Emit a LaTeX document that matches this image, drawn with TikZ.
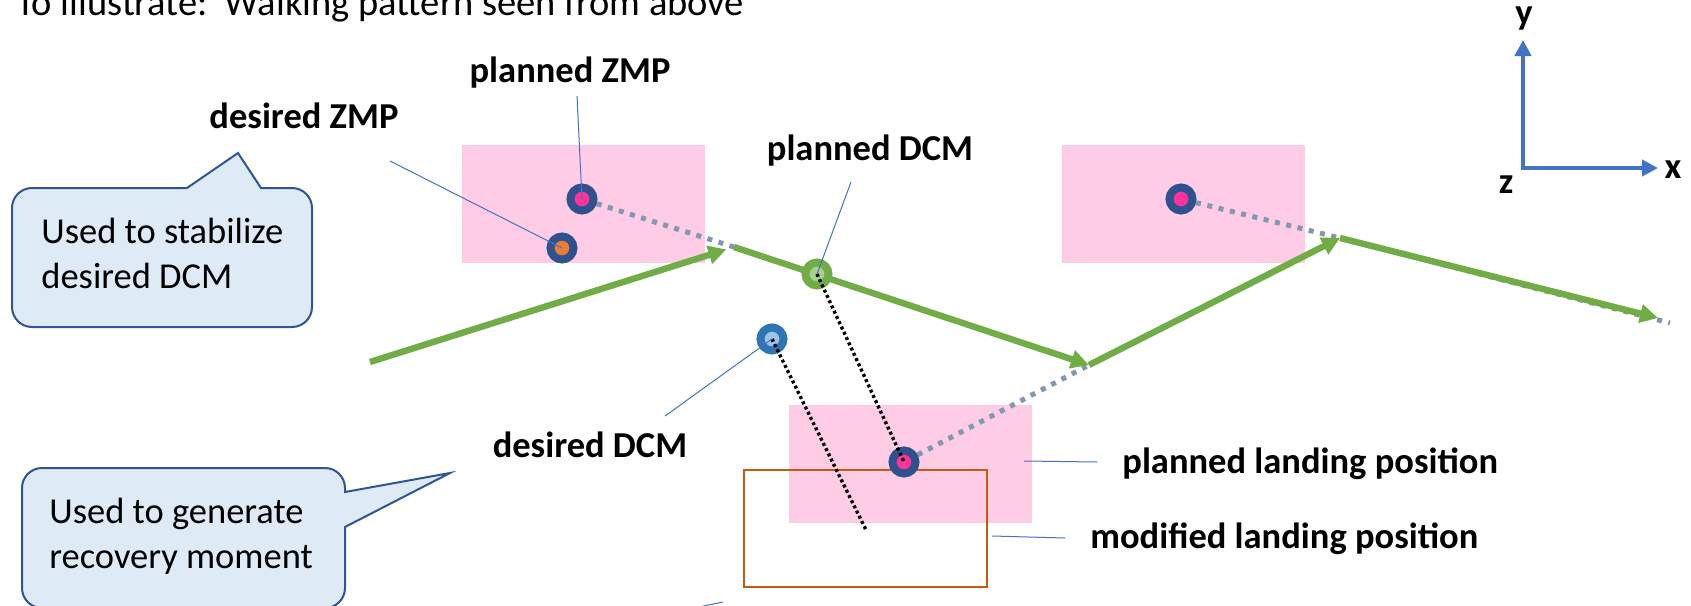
\documentclass[tikz,border=0pt]{standalone}
\usepackage{fontspec}
\setmainfont{Carlito}
\usetikzlibrary{arrows.meta}
\definecolor{padpink}{HTML}{FFCCE6}
\definecolor{landorange}{HTML}{C55A11}
\definecolor{dotnavy}{HTML}{2F528F}
\definecolor{zmppink}{HTML}{FF3399}
\definecolor{dzorange}{HTML}{ED7D31}
\definecolor{dcmgreen}{HTML}{70AD47}
\definecolor{dcmlight}{HTML}{A9D18E}
\definecolor{dcmblue}{HTML}{2E75B6}
\definecolor{dcmpale}{HTML}{9DC3E6}
\definecolor{greyblue}{HTML}{8497B0}
\definecolor{leadblue}{HTML}{4472C4}
\definecolor{notefill}{HTML}{DEEBF7}
\definecolor{noteline}{HTML}{2F5597}
\pgfdeclarelayer{pads}
\pgfdeclarelayer{paths}
\pgfsetlayers{pads,paths,main}
\tikzset{
        pad/.style={fill=padpink},
        landing/.style={draw=landorange, line width=1.25pt},
        zmp/.style={circle, draw=dotnavy, line width=4pt, fill=zmppink, minimum size=11.5pt, inner sep=0pt},
        dzmp/.style={zmp, fill=dzorange},
        pdcm/.style={zmp, draw=dcmgreen, fill=dcmlight},
        ddcm/.style={zmp, draw=dcmblue, fill=dcmpale},
        traj/.style={draw=dcmgreen, line width=3.2pt, -{Triangle[length=9pt, width=9pt]}},
        plan/.style={draw=greyblue, line width=2.5pt, dash pattern=on 2.5pt off 3.3pt},
        cmp/.style={draw=black, line width=1.7pt, dash pattern=on 1.5pt off 1.4pt},
        lead/.style={draw=leadblue, line width=0.5pt},
        axis/.style={draw=leadblue, line width=2pt, {Triangle[length=8pt, width=8pt]}-{Triangle[length=8pt, width=8pt]}},
        txt/.style={font=\fontsize{18.25}{22.5}\selectfont, inner sep=0pt},
        lbl/.style={font=\fontsize{18.25}{22.5}\selectfont\bfseries, inner sep=0pt},
        note/.style={draw=noteline, fill=notefill, line width=1pt}
          }
\begin{document}
\begin{tikzpicture}[x=0.5pt, y=-0.5pt]
        \useasboundingbox (0,0) rectangle (1691,605);
        \node[font=\fontsize{19.25}{23}\selectfont, anchor=base west, inner sep=0pt] (title) at (16,15) {To illustrate:\ \ Walking pattern seen from above};

        \begin{pgfonlayer}{pads}
          \fill[pad] (462,145) rectangle (705,263);
          \fill[pad] (1062,145) rectangle (1305,263);
          \fill[pad] (789,405) rectangle (1032,523);
          \draw[landing] (744,470) rectangle (987,587);
        \end{pgfonlayer}

        \node[zmp] (pz1) at (582,199) {};
        \node[dzmp] (dz) at (562,248) {};
        \node[pdcm] (pd) at (817,274) {};
        \node[ddcm] (dd) at (772,339) {};
        \node[zmp] (pz2) at (904,462) {};
        \node[zmp] (pz3) at (1181,199) {};

        \coordinate (s0) at (370,362);
        \coordinate (v1) at (734,247);
        \coordinate (v2) at (1089,365);
        \coordinate (v3) at (1340,238);
        \coordinate (v4) at (1658,318);
        \coordinate (e4) at (1670,323);
        \begin{pgfonlayer}{paths}
          \draw[plan] (pz1) -- (v1);
          \draw[plan] (pz2) -- (v2);
          \draw[plan] (pz3) -- (v3) -- (e4);
          \draw[traj, shorten >=4pt] (s0) -- (v1);
          \draw[traj] (v1) -- (v2);
          \draw[traj] (v2) -- (v3);
          \draw[traj] (v3) -- (v4);
        \end{pgfonlayer}

        \coordinate (c5) at (866,530);
        \draw[cmp] (pd.center) -- (pz2.center);
        \draw[cmp] (dd.center) -- (c5);

        \node[lbl, anchor=base] (pzl) at (570,82) {planned ZMP};
        \node[lbl, anchor=base] (dzl) at (304,128) {desired ZMP};
        \node[lbl, anchor=base] (pdl) at (870,160) {planned DCM};
        \node[lbl, anchor=base] (ddl) at (590,457) {desired DCM};
        \node[lbl, anchor=base west] (pll) at (1122,473) {planned landing position};
        \node[lbl, anchor=base west] (mll) at (1090,548) {modified landing position};

        \coordinate (l1) at (577,96);
        \coordinate (l2) at (390,161);
        \coordinate (l3) at (851,182);
        \coordinate (l4) at (665,416);
        \coordinate (l5) at (1024,461);
        \coordinate (l6) at (1097,462);
        \coordinate (l7) at (992,536);
        \coordinate (l8) at (1065,538);
        \coordinate (l9) at (699,607);
        \coordinate (l10) at (723,602);
        \draw[lead] (l1) -- (pz1.center);
        \draw[lead] (l2) -- (dz.center);
        \draw[lead] (l3) -- (pd.center);
        \draw[lead] (l4) -- (dd.center);
        \draw[lead] (l5) -- (l6);
        \draw[lead] (l7) -- (l8);
        \draw[lead] (l9) -- (l10);

        \coordinate (t1) at (238,153);
        \draw[note] (12,257) [rounded corners=10pt] -- (12,188) [sharp corners] -- (187,188) -- (t1) -- (261,188)
          [rounded corners=10pt] -- (312,188) -- (312,327) -- (12,327) -- cycle;
        \node[txt, align=left, anchor=west] (stab) at (41,253) {Used to stabilize\\desired DCM};

        \coordinate (t2) at (450,473);
        \draw[note] (22,538) [rounded corners=10pt] -- (22,468) -- (345,468) [sharp corners] -- (345,492) -- (t2) -- (345,527)
          [rounded corners=10pt] -- (345,608) -- (22,608) -- cycle;
        \node[txt, align=left, anchor=west] (recov) at (49,536) {Used to generate\\recovery moment};

        \coordinate (o) at (1523,168);
        \coordinate (ya) at (1523,40);
        \coordinate (xa) at (1658,168);
        \draw[axis] (ya) -- (o) -- (xa);
        \node[lbl, anchor=base] (yl) at (1524,25) {y};
        \node[lbl, anchor=base] (xl) at (1673,178) {x};
        \node[lbl, anchor=base] (zl) at (1506,193) {z};
\end{tikzpicture}
\end{document}
